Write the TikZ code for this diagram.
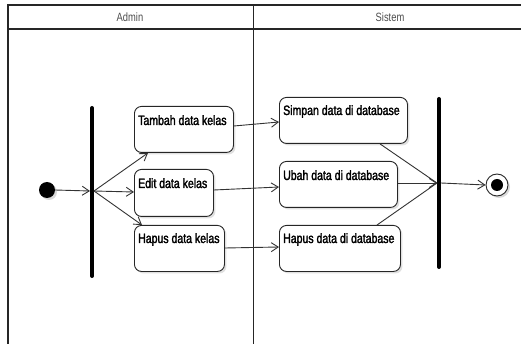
\documentclass[tikz,border=0pt]{standalone}
\usepackage{fontspec}
\setmainfont{Liberation Sans}
\newfontfamily\boxfont[FakeStretch=0.78,FakeBold=2]{Liberation Sans}
\newfontfamily\headfont[FakeStretch=0.78]{Liberation Sans}
\usetikzlibrary{arrows.meta,shadows}
\begin{document}
\begin{tikzpicture}[x=1pt,y=-1pt,
  lane/.style={line width=1.4pt,draw=black!85},
  act/.style={draw=black!85,line width=0.9pt,rounded corners=7pt,fill=white,
     drop shadow={shadow xshift=2pt,shadow yshift=-2pt,fill=black!12,opacity=1}},
  lbl/.style={font=\boxfont\fontsize{13.5}{14}\selectfont,anchor=north west,inner sep=0pt,text=black},
  hd/.style={font=\headfont\fontsize{12}{13}\selectfont,text=black!70},
  bar/.style={line width=4pt,line cap=round},
  flow/.style={draw=black!80,line width=0.9pt,-{Straight Barb[length=7pt,width=9pt]}},
  ln/.style={draw=black!80,line width=0.9pt}]
\useasboundingbox (0,0) rectangle (521,344);
% swimlanes
\draw[lane] (521,5) -- (8,5) -- (8,344);
\draw[lane] (8,29) -- (521,29);
\draw[lane] (253.5,5) -- (253.5,344);
\node[hd] (hA) at (130,17) {Admin};
\node[hd] (hS) at (390,17) {Sistem};
% initial
\fill[black!15] (49,192) circle (8);
\node[circle,fill=black,minimum size=16pt,inner sep=0pt] (init) at (47,190) {};
% fork bar
\coordinate (f1) at (92,108);
\coordinate (f2) at (92,276);
\draw[bar] (f1) -- (f2);
\coordinate (fin) at (90,191);
\coordinate (fo) at (94,191);
% activities
\node[act,minimum width=99pt,minimum height=46pt,anchor=north west,inner sep=0pt] (tambah) at (134,106) {};
\node[lbl] at (138,115) {Tambah data kelas};
\node[act,minimum width=79pt,minimum height=47pt,anchor=north west,inner sep=0pt] (edit) at (134,169) {};
\node[lbl] at (138,178) {Edit data kelas};
\node[act,minimum width=90pt,minimum height=46pt,anchor=north west,inner sep=0pt] (hapus) at (134,225) {};
\node[lbl] at (138,233) {Hapus data kelas};
\node[act,minimum width=128pt,minimum height=46pt,anchor=north west,inner sep=0pt] (simpan) at (279,97) {};
\node[lbl] at (283,105) {Simpan data di database};
\node[act,minimum width=118pt,minimum height=46pt,anchor=north west,inner sep=0pt] (ubah) at (279,161) {};
\node[lbl] at (283,170) {Ubah data di database};
\node[act,minimum width=121pt,minimum height=46pt,anchor=north west,inner sep=0pt] (hapusdb) at (279,225) {};
\node[lbl] at (283,233) {Hapus data di database};
% join bar
\coordinate (j1) at (439,99);
\coordinate (j2) at (439,267);
\draw[bar] (j1) -- (j2);
\coordinate (jin) at (437,183);
\coordinate (jo) at (441,183);
% final
\fill[black!15] (499,187) circle (11);
\node[circle,draw=black!85,line width=0.9pt,fill=white,minimum size=22pt,inner sep=0pt] (final) at (497,185) {};
\node[circle,fill=black,minimum size=12pt,inner sep=0pt] (finaldot) at (final.center) {};
% flows
\draw[flow] (init.east) -- (fin);
\draw[flow] (fo) -- (tambah.south west -| 148,152);
\draw[flow] (fo) -- (edit.west |- 0,192);
\draw[flow] (fo) -- (hapus.north west -| 142,225);
\draw[flow] (tambah.east |- 0,126) -- (simpan.west |- 0,122);
\draw[flow] (edit.east |- 0,190) -- (ubah.west |- 0,187);
\draw[flow] (hapus.east |- 0,248) -- (hapusdb.west |- 0,247);
\draw[ln] (simpan.south -| 380,143) -- (jin);
\draw[flow] (ubah.east |- 0,183) -- (jin);
\draw[ln] (hapusdb.north -| 377,225) -- (jin);
\draw[flow] (jo) -- (final.west);
\end{tikzpicture}
\end{document}
